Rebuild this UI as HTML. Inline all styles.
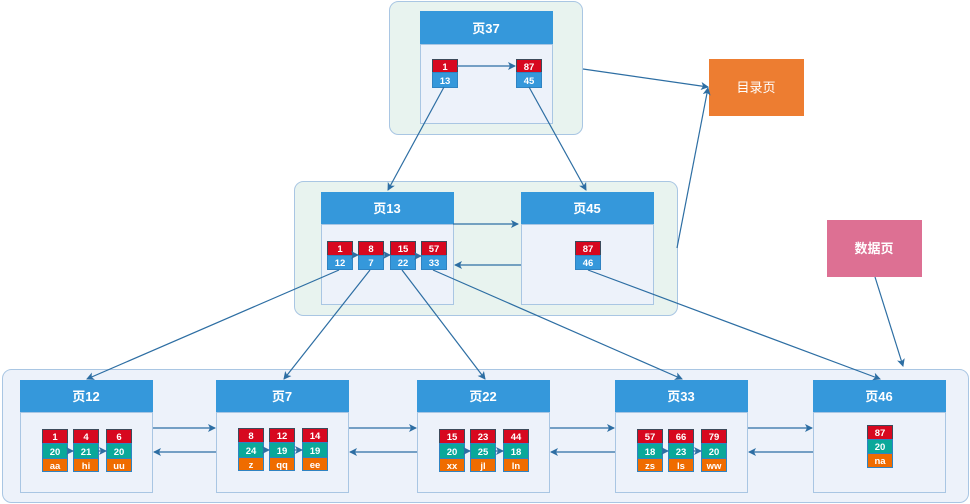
<!DOCTYPE html>
<html><head><meta charset="utf-8"><style>
html,body{margin:0;padding:0;background:#fff;width:970px;height:504px;overflow:hidden}
svg text{font-family:"Liberation Sans","Noto Sans CJK SC",sans-serif;fill:#fff}
.h{font-size:13px;font-weight:bold}
.r{font-size:9.5px;font-weight:bold;font-family:"Liberation Mono",monospace}
</style></head><body>
<svg width="970" height="504" viewBox="0 0 970 504" xmlns="http://www.w3.org/2000/svg">
<defs>
<marker id="a" markerWidth="8" markerHeight="8" refX="7" refY="4" orient="auto" markerUnits="userSpaceOnUse"><path d="M0,0 L8,4 L0,8 L2,4 Z" fill="#2d6ea3"/></marker>
<symbol id="none"/>
</defs>
<!-- containers -->
<rect x="389.5" y="1.5" width="193" height="133" rx="9" fill="#e8f3ef" stroke="#a9c6e3"/>
<rect x="294.5" y="181.5" width="383" height="134" rx="9" fill="#e8f3ef" stroke="#a9c6e3"/>
<rect x="2.5" y="369.5" width="966" height="133" rx="9" fill="#edf2fa" stroke="#a9c6e3"/>

<!-- pages -->
<g stroke="#a9c6e3" fill="#edf2fa">
<rect x="420.5" y="44.5" width="132" height="79"/>
<rect x="321.5" y="224.5" width="132" height="80"/>
<rect x="521.5" y="224.5" width="132" height="80"/>
<rect x="20.5" y="412.5" width="132" height="80"/>
<rect x="216.5" y="412.5" width="132" height="80"/>
<rect x="417.5" y="412.5" width="132" height="80"/>
<rect x="615.5" y="412.5" width="132" height="80"/>
<rect x="813.5" y="412.5" width="132" height="80"/>
</g>
<g fill="#3598db">
<rect x="420" y="11" width="133" height="33"/>
<rect x="321" y="192" width="133" height="32"/>
<rect x="521" y="192" width="133" height="32"/>
<rect x="20" y="380" width="133" height="32"/>
<rect x="216" y="380" width="133" height="32"/>
<rect x="417" y="380" width="133" height="32"/>
<rect x="615" y="380" width="133" height="32"/>
<rect x="813" y="380" width="133" height="32"/>
</g>
<g class="h" text-anchor="middle">
<text x="486" y="33">页37</text>
<text x="387" y="213">页13</text>
<text x="587" y="213">页45</text>
<text x="86" y="401">页12</text>
<text x="282" y="401">页7</text>
<text x="483" y="401">页22</text>
<text x="681" y="401">页33</text>
<text x="879" y="401">页46</text>
</g>

<!-- side boxes -->
<rect x="709" y="59" width="95" height="57" fill="#ed7d31"/>
<text x="756" y="92" text-anchor="middle" style="font-size:13px">目录页</text>
<rect x="827" y="220" width="95" height="57" fill="#dd7093"/>
<text x="874" y="253" text-anchor="middle" class="h">数据页</text>

<!-- records: top -->
<g stroke="#2f83c2" stroke-width="1">
<rect x="432.5" y="59.5" width="25" height="13" fill="#d7081f" stroke="#3c4a5a"/><rect x="432.5" y="72.5" width="25" height="15" fill="#3598db"/>
<rect x="516.5" y="59.5" width="25" height="13" fill="#d7081f" stroke="#3c4a5a"/><rect x="516.5" y="72.5" width="25" height="15" fill="#3598db"/>
<!-- page13 -->
<rect x="327.5" y="241.5" width="25" height="14" fill="#d7081f" stroke="#3c4a5a"/><rect x="327.5" y="255.5" width="25" height="14" fill="#3598db"/>
<rect x="358.5" y="241.5" width="25" height="14" fill="#d7081f" stroke="#3c4a5a"/><rect x="358.5" y="255.5" width="25" height="14" fill="#3598db"/>
<rect x="390.5" y="241.5" width="25" height="14" fill="#d7081f" stroke="#3c4a5a"/><rect x="390.5" y="255.5" width="25" height="14" fill="#3598db"/>
<rect x="421.5" y="241.5" width="25" height="14" fill="#d7081f" stroke="#3c4a5a"/><rect x="421.5" y="255.5" width="25" height="14" fill="#3598db"/>
<rect x="575.5" y="241.5" width="25" height="14" fill="#d7081f" stroke="#3c4a5a"/><rect x="575.5" y="255.5" width="25" height="14" fill="#3598db"/>
</g>
<g class="r" text-anchor="middle">
<text x="445" y="70">1</text><text x="445" y="84">13</text>
<text x="529" y="70">87</text><text x="529" y="84">45</text>
<text x="340" y="252">1</text><text x="340" y="266">12</text>
<text x="371" y="252">8</text><text x="371" y="266">7</text>
<text x="403" y="252">15</text><text x="403" y="266">22</text>
<text x="434" y="252">57</text><text x="434" y="266">33</text>
<text x="588" y="252">87</text><text x="588" y="266">46</text>
</g>

<!-- bottom records -->
<g stroke="#2f83c2">
<g id="r3">
</g>
</g>
<g stroke="#2f83c2">
<!-- page12 -->
<rect x="42.5" y="429.5" width="25" height="14" fill="#d7081f" stroke="#3c4a5a"/><rect x="42.5" y="443.5" width="25" height="15" fill="#0aa89a"/><rect x="42.5" y="458.5" width="25" height="13" fill="#ef6c00"/>
<rect x="73.5" y="429.5" width="25" height="14" fill="#d7081f" stroke="#3c4a5a"/><rect x="73.5" y="443.5" width="25" height="15" fill="#0aa89a"/><rect x="73.5" y="458.5" width="25" height="13" fill="#ef6c00"/>
<rect x="106.5" y="429.5" width="25" height="14" fill="#d7081f" stroke="#3c4a5a"/><rect x="106.5" y="443.5" width="25" height="15" fill="#0aa89a"/><rect x="106.5" y="458.5" width="25" height="13" fill="#ef6c00"/>
<!-- page7 -->
<rect x="238.5" y="428.5" width="25" height="14" fill="#d7081f" stroke="#3c4a5a"/><rect x="238.5" y="442.5" width="25" height="15" fill="#0aa89a"/><rect x="238.5" y="457.5" width="25" height="13" fill="#ef6c00"/>
<rect x="269.5" y="428.5" width="25" height="14" fill="#d7081f" stroke="#3c4a5a"/><rect x="269.5" y="442.5" width="25" height="15" fill="#0aa89a"/><rect x="269.5" y="457.5" width="25" height="13" fill="#ef6c00"/>
<rect x="302.5" y="428.5" width="25" height="14" fill="#d7081f" stroke="#3c4a5a"/><rect x="302.5" y="442.5" width="25" height="15" fill="#0aa89a"/><rect x="302.5" y="457.5" width="25" height="13" fill="#ef6c00"/>
<!-- page22 -->
<rect x="439.5" y="429.5" width="25" height="14" fill="#d7081f" stroke="#3c4a5a"/><rect x="439.5" y="443.5" width="25" height="15" fill="#0aa89a"/><rect x="439.5" y="458.5" width="25" height="13" fill="#ef6c00"/>
<rect x="470.5" y="429.5" width="25" height="14" fill="#d7081f" stroke="#3c4a5a"/><rect x="470.5" y="443.5" width="25" height="15" fill="#0aa89a"/><rect x="470.5" y="458.5" width="25" height="13" fill="#ef6c00"/>
<rect x="503.5" y="429.5" width="25" height="14" fill="#d7081f" stroke="#3c4a5a"/><rect x="503.5" y="443.5" width="25" height="15" fill="#0aa89a"/><rect x="503.5" y="458.5" width="25" height="13" fill="#ef6c00"/>
<!-- page33 -->
<rect x="637.5" y="429.5" width="25" height="14" fill="#d7081f" stroke="#3c4a5a"/><rect x="637.5" y="443.5" width="25" height="15" fill="#0aa89a"/><rect x="637.5" y="458.5" width="25" height="13" fill="#ef6c00"/>
<rect x="668.5" y="429.5" width="25" height="14" fill="#d7081f" stroke="#3c4a5a"/><rect x="668.5" y="443.5" width="25" height="15" fill="#0aa89a"/><rect x="668.5" y="458.5" width="25" height="13" fill="#ef6c00"/>
<rect x="701.5" y="429.5" width="25" height="14" fill="#d7081f" stroke="#3c4a5a"/><rect x="701.5" y="443.5" width="25" height="15" fill="#0aa89a"/><rect x="701.5" y="458.5" width="25" height="13" fill="#ef6c00"/>
<!-- page46 -->
<rect x="867.5" y="425.5" width="25" height="14" fill="#d7081f" stroke="#3c4a5a"/><rect x="867.5" y="439.5" width="25" height="14" fill="#0aa89a"/><rect x="867.5" y="453.5" width="25" height="14" fill="#ef6c00"/>
</g>
<g class="r" text-anchor="middle">
<text x="55" y="440">1</text><text x="55" y="455">20</text><text x="55" y="469">aa</text>
<text x="86" y="440">4</text><text x="86" y="455">21</text><text x="86" y="469">hi</text>
<text x="119" y="440">6</text><text x="119" y="455">20</text><text x="119" y="469">uu</text>
<text x="251" y="439">8</text><text x="251" y="454">24</text><text x="251" y="468">z</text>
<text x="282" y="439">12</text><text x="282" y="454">19</text><text x="282" y="468">qq</text>
<text x="315" y="439">14</text><text x="315" y="454">19</text><text x="315" y="468">ee</text>
<text x="452" y="440">15</text><text x="452" y="455">20</text><text x="452" y="469">xx</text>
<text x="483" y="440">23</text><text x="483" y="455">25</text><text x="483" y="469">jl</text>
<text x="516" y="440">44</text><text x="516" y="455">18</text><text x="516" y="469">ln</text>
<text x="650" y="440">57</text><text x="650" y="455">18</text><text x="650" y="469">zs</text>
<text x="681" y="440">66</text><text x="681" y="455">23</text><text x="681" y="469">ls</text>
<text x="714" y="440">79</text><text x="714" y="455">20</text><text x="714" y="469">ww</text>
<text x="880" y="436">87</text><text x="880" y="450">20</text><text x="880" y="464">na</text>
</g>

<!-- connectors -->
<g stroke="#2d6ea3" stroke-width="1.2" fill="none" marker-end="url(#a)">
<line x1="457" y1="66" x2="515" y2="66"/>
<line x1="444" y1="87" x2="388" y2="190"/>
<line x1="529" y1="87" x2="586" y2="190"/>
<line x1="583" y1="69" x2="708" y2="87"/>
<line x1="677" y1="248" x2="708" y2="88"/>
<line x1="875" y1="277" x2="903" y2="366"/>
<line x1="453" y1="224" x2="518" y2="224"/>
<line x1="521" y1="265" x2="455" y2="265"/>
<line x1="352" y1="255" x2="358" y2="255"/>
<line x1="383" y1="255" x2="390" y2="255"/>
<line x1="415" y1="256" x2="421" y2="256"/>
<line x1="339" y1="270" x2="87" y2="379"/>
<line x1="370" y1="270" x2="284" y2="379"/>
<line x1="402" y1="270" x2="485" y2="379"/>
<line x1="433" y1="270" x2="682" y2="379"/>
<line x1="588" y1="270" x2="880" y2="379"/>
<line x1="153" y1="428" x2="215" y2="428"/>
<line x1="216" y1="452" x2="154" y2="452"/>
<line x1="349" y1="428" x2="416" y2="428"/>
<line x1="417" y1="452" x2="350" y2="452"/>
<line x1="550" y1="428" x2="614" y2="428"/>
<line x1="615" y1="452" x2="551" y2="452"/>
<line x1="748" y1="428" x2="812" y2="428"/>
<line x1="813" y1="452" x2="749" y2="452"/>
<line x1="67" y1="451" x2="73" y2="451"/>
<line x1="98" y1="451" x2="106" y2="451"/>
<line x1="263" y1="450" x2="269" y2="450"/>
<line x1="294" y1="450" x2="302" y2="450"/>
<line x1="464" y1="451" x2="470" y2="451"/>
<line x1="495" y1="451" x2="503" y2="451"/>
<line x1="662" y1="451" x2="668" y2="451"/>
<line x1="693" y1="451" x2="701" y2="451"/>
</g>
</svg>
</body></html>
